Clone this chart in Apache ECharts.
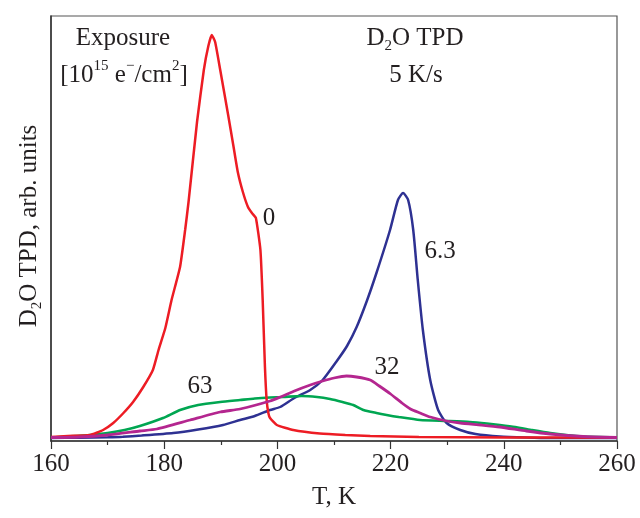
<!DOCTYPE html>
<html>
<head>
<meta charset="utf-8">
<script src="https://cdn.jsdelivr.net/npm/echarts@6/dist/echarts.min.js"></script>
<style>
html,body{margin:0;padding:0;background:#fff;}
#chart{width:640px;height:518px;}
</style>
</head>
<body>
<div id="chart"></div>
<script>
// ---- data (T in K, intensity in arbitrary units) ----
const xTickValues = [160, 180, 200, 220, 240, 260];

const redT = [160,163,166.9,169.2,171,172.8,174.5,176.3,178,179.0,180.2,181.3,182.8,183.7,184.3,185.8,187.0,187.8,188.4,189.0,189.9,191.3,192.2,193.0,193.9,194.8,195.5,196.2,197.0,197.4,197.8,198.1,198.4,198.7,199.9,202.8,207.5,212,216.4,225,240,260];
const redV = [1,2,3,8,15,25,36,51,68,88,110,138,171,208,236,316,368,392,403,396,368,323,293,266,246,231,225,220,188,138,71,38,25,20,13,8,4.5,3,2,1,0.5,0.3];

const blueT = [160,165,170,172.7,176,181.6,186,190.4,193.4,196,198.7,200.5,203,205.8,208,210.5,212.3,214.0,215.8,217.5,219.9,221.3,222.2,223.1,224.0,224.8,225.7,227.0,228.4,229.9,232.3,235,239.3,244,248.2,260];
const blueV = [0,0.3,0.8,1.3,2.5,5,8.5,13,18,22,28,31,40,48,58,77,92,111,137,165,208,238,245,238,208,158,108,58,28,15,8,4,1.5,0.5,0,0];

const magentaT = [160,165,170,175.7,178.7,184.6,189.9,193.4,198.7,200.5,203,205.8,208,210,212.2,214,216.4,218,220,222,223.5,225.2,227,229.9,232.3,236,239.3,244,248.2,254,260];
const magentaV = [0.5,1,3,7,9,18,26,29,37,41,47,53,57,60,62,61,58,52,44,35,29,25,21,17,15,13,11,7,4,1.5,0.5];

const greenT = [160,163,166.9,170,173,175.7,179.8,182.8,186,189.9,193.4,196,198.7,201,204.3,207,209.3,211.5,213.4,215.2,217.5,219.3,221.4,225.2,229.9,234,237,239.3,242,245,248.2,251,254,260];
const greenV = [0.5,1.5,3,5,8,12,20,28,33,36,38,39.5,40.5,41,42,41,39,36,33,28,25,23,21,18,17,16,14.5,13,11,8,5,3,1.5,0.7];

const curveLabels = ['0', '6.3', '32', '63'];

function pairs(t, v) { return t.map((x, i) => [x, v[i]]); }

const FONT = '"Liberation Serif", "Times New Roman", serif';
const TXT = '#231f20';

const chart = echarts.init(document.getElementById('chart'), null, {renderer: 'canvas'});

function txt(x, y, text, extra) {
  return Object.assign({
    type: 'text', x: x, y: y, z: 100,
    style: Object.assign({
      text: text, fontFamily: FONT, fontSize: 25, fill: TXT,
      align: 'center', verticalAlign: 'middle', lineHeight: 32,
      rich: {
        sup: {fontFamily: FONT, fontSize: 15, lineHeight: 15, verticalAlign: 'top', fill: TXT},
        sub: {fontFamily: FONT, fontSize: 15, lineHeight: 15, verticalAlign: 'bottom', fill: TXT}
      }
    }, extra || {})
  });
}

const option = {
  backgroundColor: '#fff',
  animation: false,
  grid: {left: 51, right: 23, top: 16, bottom: 77, show: true, borderColor: '#555', borderWidth: 1.2, backgroundColor: 'transparent'},
  xAxis: {
    type: 'value', min: 160, max: 260, interval: 20,
    name: 'T, K', nameLocation: 'middle', nameGap: 44,
    nameTextStyle: {fontFamily: FONT, fontSize: 25, color: TXT},
    axisLine: {show: true, onZero: false, lineStyle: {color: '#333', width: 1.5}},
    axisTick: {show: true, inside: false, length: 8, lineStyle: {color: '#333', width: 1.2}},
    minorTick: {show: true, splitNumber: 2, length: 4, lineStyle: {color: '#333', width: 1.2}},
    axisLabel: {fontFamily: FONT, fontSize: 25, color: TXT, margin: 11,
      formatter: v => (xTickValues.indexOf(v) >= 0 ? String(v) : '')},
    splitLine: {show: false}
  },
  yAxis: {
    type: 'value', min: -3, max: 422,
    axisLine: {show: true, onZero: false, lineStyle: {color: '#333', width: 1.5}},
    axisTick: {show: false}, axisLabel: {show: false}, splitLine: {show: false}
  },
  series: [
    {name: '6.3', type: 'line', data: pairs(blueT, blueV), showSymbol: false, smooth: 0.2,
      lineStyle: {color: '#2e3192', width: 2.5}, itemStyle: {color: '#2e3192'}, z: 2},
    {name: '63', type: 'line', data: pairs(greenT, greenV), showSymbol: false, smooth: 0.2,
      lineStyle: {color: '#00a651', width: 2.6}, itemStyle: {color: '#00a651'}, z: 3},
    {name: '0', type: 'line', data: pairs(redT, redV), showSymbol: false, smooth: 0.15,
      lineStyle: {color: '#ed1c24', width: 2.5}, itemStyle: {color: '#ed1c24'}, z: 4},
    {name: '32', type: 'line', data: pairs(magentaT, magentaV), showSymbol: false, smooth: 0.2,
      lineStyle: {color: '#b4268f', width: 2.8}, itemStyle: {color: '#b4268f'}, z: 5}
  ],
  graphic: [
    txt(123, 38, 'Exposure'),
    txt(124, 75, '[10{sup|15} e{sup|−}/cm{sup|2}]'),
    txt(415, 38, 'D{sub|2}O TPD'),
    txt(416, 75, '5 K/s'),
    txt(29, 226, 'D{sub|2}O TPD, arb. units', {}),
    txt(269, 218, curveLabels[0]),
    txt(440, 251, curveLabels[1]),
    txt(387, 367, curveLabels[2]),
    txt(200, 386, curveLabels[3])
  ]
};
// rotate the y-axis title
option.graphic[4].rotation = Math.PI / 2;

chart.setOption(option);
</script>
</body>
</html>
